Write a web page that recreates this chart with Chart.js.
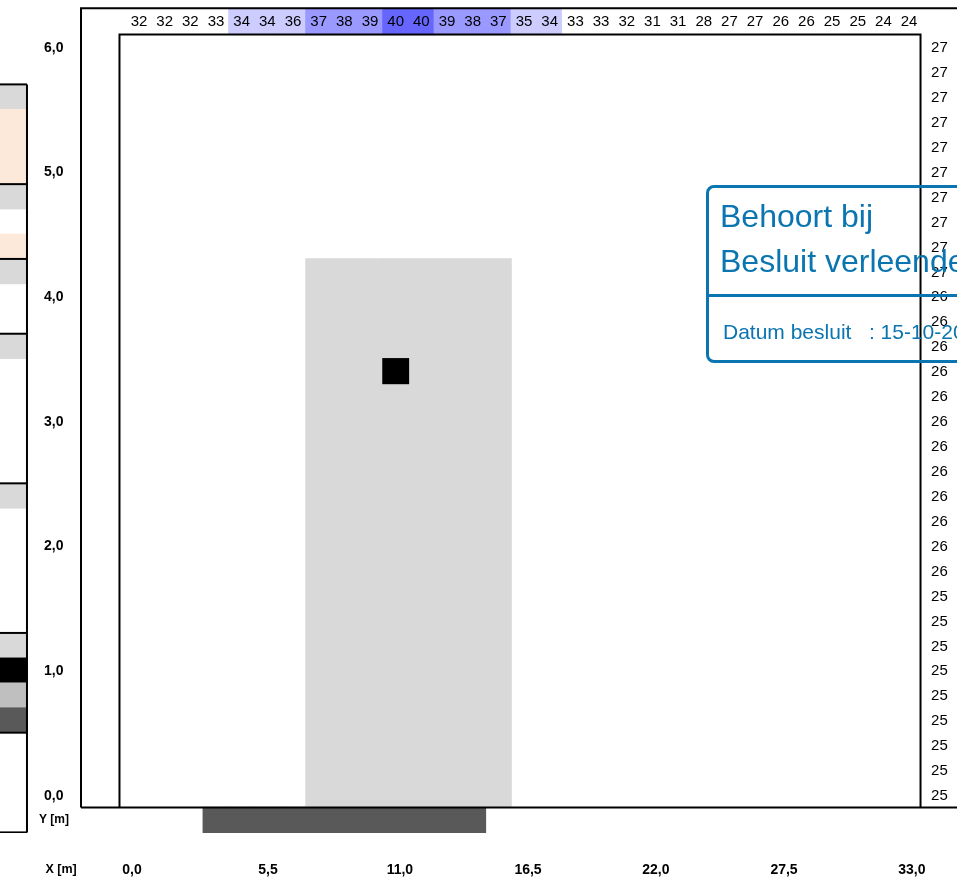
<!DOCTYPE html>
<html>
<head>
<meta charset="utf-8">
<title>Resultaten</title>
<script src="https://cdn.jsdelivr.net/npm/chart.js@4"></script>
<style>
html, body { margin: 0; padding: 0; background: #fff; overflow: hidden; }
#wrap { position: relative; width: 957px; height: 881px; overflow: hidden; }
canvas { display: block; }
#stamp {
  position: absolute; left: 706px; top: 185px; width: 300px; height: 172px;
  border: 3px solid #0a75b0; border-radius: 8px;
  color: #0a75b0; font-family: "Liberation Sans", Arial, sans-serif;
}
#stamp .big { position: absolute; left: 11px; font-size: 32px; line-height: 36px; white-space: nowrap; }
#stamp .rule { position: absolute; left: 0; right: 0; top: 106px; border-top: 3px solid #0a75b0; }
#stamp .small { position: absolute; left: 14px; top: 132px; font-size: 21px; line-height: 24px; white-space: pre; }
</style>
</head>
<body>
<div id="wrap">
<canvas id="myChart" width="957" height="881"></canvas>
<div id="stamp">
  <div class="big" style="top:10px">Behoort bij</div>
  <div class="big" style="top:55px">Besluit verleende</div>
  <div class="rule"></div>
  <div class="small">Datum besluit   : 15-10-20</div>
</div>
</div>
<script>
// values along the top edge, one per column
var columnX = [0, 1.1, 2.2, 3.3, 4.4, 5.5, 6.6, 7.7, 8.8, 9.9, 11, 12.1, 13.2, 14.3, 15.4, 16.5,
  17.6, 18.7, 19.8, 20.9, 22, 23.1, 24.2, 25.3, 26.4, 27.5, 28.6, 29.7, 30.8, 31.9, 33];
var topValues = [32, 32, 32, 33, 34, 34, 36, 37, 38, 39, 40, 40, 39, 38, 37, 35,
  34, 33, 33, 32, 31, 31, 28, 27, 27, 26, 26, 25, 25, 24, 24];

// values along the right edge, one per row
var rowY = [6, 5.8, 5.6, 5.4, 5.2, 5, 4.8, 4.6, 4.4, 4.2, 4, 3.8, 3.6, 3.4, 3.2, 3,
  2.8, 2.6, 2.4, 2.2, 2, 1.8, 1.6, 1.4, 1.2, 1, 0.8, 0.6, 0.4, 0.2, 0];
var rightValues = [27, 27, 27, 27, 27, 27, 27, 27, 27, 27, 26, 26, 26, 26, 26, 26,
  26, 26, 26, 26, 26, 26, 25, 25, 25, 25, 25, 25, 25, 25, 25];

// grey block, black square and dark footing in the plan
var blockX = [7.7, 8.8, 9.9, 11, 12.1, 13.2, 14.3, 15.4];
var blockRange = [-0.1, 4.3];
var squareX = [11];
var squareRange = [3.3, 3.5];
var footingX = [3.3, 4.4, 5.5, 6.6, 7.7, 8.8, 9.9, 11, 12.1, 13.2, 14.3];
var footingRange = [-0.3, -0.1];

// section on the left, cut off by the page edge
var sectionX = -5.4;
var sectionFrom = [5.5, 4.9, 4.7, 4.3, 4.1, 3.5, 2.3, 1.1, 0.9, 0.7, 0.5];
var sectionTo = [5.7, 5.5, 4.9, 4.5, 4.3, 3.7, 2.5, 1.3, 1.1, 0.9, 0.7];
var sectionColors = ['#d9d9d9', '#fde9d9', '#d9d9d9', '#fde9d9', '#d9d9d9', '#d9d9d9', '#d9d9d9',
  '#d9d9d9', '#000000', '#bfbfbf', '#595959'];
var sectionLines = [5.7, 4.9, 4.3, 3.7, 2.5, 1.3, 0.5, -0.3];
var sectionLineX = [-6, -4.8];

// frame lines
var outerLeft = -2.485, outerTop = 6.31, frameBottom = -0.1;
var innerLeft = -0.836, innerRight = 33.49, innerTop = 6.1;

// axis ticks
var yTicks = [0, 1, 2, 3, 4, 5, 6];
var yTickLabels = ['0,0', '1,0', '2,0', '3,0', '4,0', '5,0', '6,0'];
var xTickAt = [-3.34, -0.3, 5.53, 11.18, 16.67, 22.15, 27.64, 33.12];
var xTickLabels = ['X [m]', '0,0', '5,5', '11,0', '16,5', '22,0', '27,5', '33,0'];

var FONT = '"Liberation Sans", Arial, sans-serif';

function heatColor(v) {
  if (v >= 40) return '#6666ff';
  if (v >= 37) return '#9999ff';
  if (v >= 34) return '#ccccff';
  return '#ffffff';
}

// higher order is drawn first, so the lines with order 0 end up on top
function barSet(xs, range, color, order) {
  return {
    type: 'bar', grouped: false, backgroundColor: color, barPercentage: 1, categoryPercentage: 1,
    inflateAmount: 0.6, order: order,
    data: xs.map(function (x) { return { x: x, y: range }; })
  };
}

function lineSet(points) {
  return { type: 'line', data: points, borderColor: '#000', borderWidth: 2, pointRadius: 0, tension: 0, fill: false, order: 0 };
}

// the axes must not push the plot area away from the page edges
function noMargins(axis) {
  axis.paddingLeft = axis.paddingRight = axis.paddingTop = axis.paddingBottom = 0;
  if (axis.isHorizontal()) axis.height = 48; else axis.width = 0;
}

var datasets = [
  barSet(columnX, [6.1, 6.3], topValues.map(heatColor), 3),
  barSet(blockX, blockRange, '#d9d9d9', 3),
  barSet(squareX, squareRange, '#000000', 1),
  barSet(footingX, footingRange, '#595959', 3),
  {
    type: 'bar', grouped: false, backgroundColor: sectionColors, barThickness: 28, order: 3,
    data: sectionFrom.map(function (f, i) { return { x: sectionX, y: [f, sectionTo[i]] }; })
  },
  lineSet([{ x: outerLeft, y: frameBottom }, { x: outerLeft, y: outerTop }, { x: 36, y: outerTop }]),
  lineSet([{ x: outerLeft, y: frameBottom }, { x: 36, y: frameBottom }]),
  lineSet([{ x: innerLeft, y: frameBottom }, { x: innerLeft, y: innerTop }, { x: innerRight, y: innerTop }, { x: innerRight, y: frameBottom }]),
  lineSet([{ x: sectionLineX[1], y: sectionLines[0] }, { x: sectionLineX[1], y: sectionLines[sectionLines.length - 1] }])
];
sectionLines.forEach(function (y) {
  datasets.push(lineSet([{ x: sectionLineX[0], y: y }, { x: sectionLineX[1], y: y }]));
});

// prints the numbers of the two strips
var stripText = {
  id: 'stripText',
  afterDatasetsDraw: function (chart) {
    var ctx = chart.ctx, sx = chart.scales.x, sy = chart.scales.y;
    ctx.save();
    ctx.font = '15px ' + FONT;
    ctx.fillStyle = '#000';
    ctx.textAlign = 'center';
    ctx.textBaseline = 'middle';
    topValues.forEach(function (v, i) {
      ctx.fillText(String(v), sx.getPixelForValue(columnX[i]), sy.getPixelForValue(6.2));
    });
    rightValues.forEach(function (v, i) {
      ctx.fillText(String(v), sx.getPixelForValue(34.3), sy.getPixelForValue(rowY[i]) + 1);
    });
    ctx.restore();
  }
};

var chart = new Chart(document.getElementById('myChart').getContext('2d'), {
  data: { datasets: datasets },
  plugins: [stripText],
  options: {
    responsive: false,
    animation: false,
    layout: { padding: 0 },
    plugins: { legend: { display: false }, tooltip: { enabled: false }, title: { display: false } },
    scales: {
      x: {
        type: 'linear', offset: false, min: -5.956, max: 35.053,
        grid: { display: false, drawTicks: false, offset: false }, border: { display: false },
        afterBuildTicks: function (axis) { axis.ticks = xTickAt.map(function (v) { return { value: v }; }); },
        afterFit: noMargins,
        ticks: {
          autoSkip: false, maxRotation: 0, padding: 29, color: '#000',
          font: function (c) { return { family: FONT, size: c.index === 0 ? 12.5 : 14, weight: 'bold' }; },
          callback: function (v, i) { return xTickLabels[i]; }
        }
      },
      y: {
        type: 'linear', min: -0.3048, max: 6.377,
        grid: { display: false, drawTicks: false }, border: { display: false },
        afterBuildTicks: function (axis) { axis.ticks = yTicks.map(function (v) { return { value: v }; }); },
        afterFit: noMargins,
        ticks: {
          mirror: true, padding: 44, color: '#000', labelOffset: 0.7,
          font: { family: FONT, size: 14, weight: 'bold' },
          callback: function (v, i) { return yTickLabels[i]; }
        }
      },
      yName: {
        type: 'linear', position: 'left', min: -0.3048, max: 6.377,
        grid: { display: false, drawTicks: false }, border: { display: false },
        afterBuildTicks: function (axis) { axis.ticks = [{ value: -0.2 }]; },
        afterFit: noMargins,
        ticks: {
          mirror: true, padding: 39, color: '#000',
          font: { family: FONT, size: 12, weight: 'bold' },
          callback: function () { return 'Y [m]'; }
        }
      }
    }
  }
});
</script>
</body>
</html>
